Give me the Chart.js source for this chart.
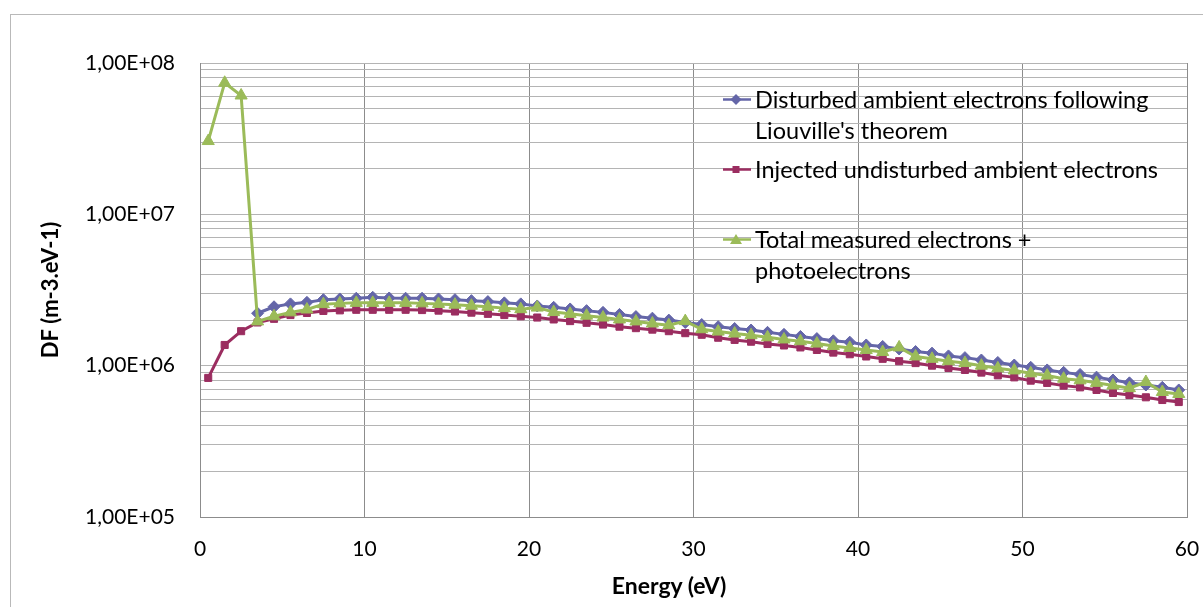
<!DOCTYPE html>
<html>
<head>
<meta charset="utf-8">
<script src="https://cdn.jsdelivr.net/npm/chart.js@4.4.1/dist/chart.umd.min.js"></script>
<style>
  body { margin: 0; background: #fff; overflow: hidden; font-family: Lato, "Open Sans", sans-serif; }
  #wrap { position: relative; width: 1203px; height: 607px; overflow: hidden; }
  #frame { position: absolute; left: 10px; top: 14px; width: 1400px; height: 800px; border: 1px solid #b9b9b9; }
  #chart { position: absolute; left: 0; top: 0; }
  .legend { position: absolute; left: 722px; font-size: 23.5px; line-height: 31px; color: #000; }
  .legend .item { position: absolute; left: 0; white-space: nowrap; }
  .legend svg { position: absolute; left: 0; top: 0; }
  .legend span { position: absolute; left: 33px; top: 0; }
  #xtitle { position: absolute; left: 519px; width: 300px; top: 571px; text-align: center; font-weight: bold; font-size: 23px; line-height: 28px; }
</style>
</head>
<body>
<div id="wrap">
  <div id="frame"></div>
  <canvas id="chart" width="1203" height="607"></canvas>
  <div class="legend" id="legend"></div>
  <div id="xtitle">Energy (eV)</div>
</div>
<script>
// --- data ---
const energy = [
  0.5, 1.5, 2.5, 3.5, 4.5, 5.5, 6.5, 7.5, 8.5, 9.5,
  10.5, 11.5, 12.5, 13.5, 14.5, 15.5, 16.5, 17.5, 18.5, 19.5,
  20.5, 21.5, 22.5, 23.5, 24.5, 25.5, 26.5, 27.5, 28.5, 29.5,
  30.5, 31.5, 32.5, 33.5, 34.5, 35.5, 36.5, 37.5, 38.5, 39.5,
  40.5, 41.5, 42.5, 43.5, 44.5, 45.5, 46.5, 47.5, 48.5, 49.5,
  50.5, 51.5, 52.5, 53.5, 54.5, 55.5, 56.5, 57.5, 58.5, 59.5
];

const disturbed = [
  null, null, null, 2.22e6, 2.45e6, 2.56e6, 2.62e6, 2.73e6, 2.76e6, 2.79e6,
  2.83e6, 2.80e6, 2.79e6, 2.79e6, 2.76e6, 2.73e6, 2.69e6, 2.65e6, 2.60e6, 2.56e6,
  2.48e6, 2.43e6, 2.37e6, 2.31e6, 2.25e6, 2.18e6, 2.11e6, 2.06e6, 2.00e6, 1.93e6,
  1.87e6, 1.81e6, 1.76e6, 1.72e6, 1.66e6, 1.61e6, 1.56e6, 1.51e6, 1.46e6, 1.43e6,
  1.37e6, 1.34e6, 1.29e6, 1.24e6, 1.21e6, 1.16e6, 1.13e6, 1.09e6, 1.05e6, 1.01e6,
  9.75e5, 9.37e5, 9.03e5, 8.75e5, 8.40e5, 8.04e5, 7.70e5, 7.45e5, 7.19e5, 6.91e5
];

const injected = [
  8.3e5, 1.37e6, 1.69e6, 1.93e6, 2.04e6, 2.16e6, 2.23e6, 2.30e6, 2.32e6, 2.34e6,
  2.34e6, 2.34e6, 2.34e6, 2.33e6, 2.31e6, 2.28e6, 2.24e6, 2.20e6, 2.16e6, 2.12e6,
  2.08e6, 2.02e6, 1.97e6, 1.92e6, 1.87e6, 1.81e6, 1.77e6, 1.73e6, 1.69e6, 1.64e6,
  1.60e6, 1.53e6, 1.48e6, 1.44e6, 1.39e6, 1.36e6, 1.32e6, 1.27e6, 1.22e6, 1.19e6,
  1.15e6, 1.11e6, 1.07e6, 1.04e6, 1.00e6, 9.66e5, 9.37e5, 9.00e5, 8.63e5, 8.37e5,
  7.96e5, 7.69e5, 7.38e5, 7.19e5, 6.91e5, 6.60e5, 6.40e5, 6.18e5, 5.93e5, 5.75e5
];

const total = [
  3.05e7, 7.4e7, 6.1e7, 1.96e6, 2.12e6, 2.25e6, 2.35e6, 2.55e6, 2.58e6, 2.60e6,
  2.60e6, 2.60e6, 2.60e6, 2.58e6, 2.56e6, 2.53e6, 2.49e6, 2.45e6, 2.40e6, 2.36e6,
  2.42e6, 2.26e6, 2.20e6, 2.14e6, 2.08e6, 2.02e6, 1.96e6, 1.90e6, 1.85e6, 1.97e6,
  1.74e6, 1.68e6, 1.63e6, 1.59e6, 1.54e6, 1.49e6, 1.45e6, 1.40e6, 1.35e6, 1.31e6,
  1.27e6, 1.23e6, 1.32e6, 1.15e6, 1.11e6, 1.07e6, 1.04e6, 1.00e6, 9.6e5, 9.3e5,
  8.9e5, 8.6e5, 8.2e5, 8.0e5, 7.7e5, 7.4e5, 7.1e5, 7.8e5, 6.7e5, 6.5e5
];

const seriesNames = [
  ["Disturbed ambient electrons following", "Liouville's theorem"],
  ["Injected undisturbed ambient electrons"],
  ["Total measured electrons +", "photoelectrons"]
];
const yTickValues = [1e5, 1e6, 1e7, 1e8];
const yTickLabels = ["1,00E+05", "1,00E+06", "1,00E+07", "1,00E+08"];
const xTickValues = [0, 10, 20, 30, 40, 50, 60];

const BLUE = "#6466a8";
const MAGENTA = "#9b2d60";
const GREEN = "#9bbb59";

const toPoints = arr => energy.map((x, i) => ({ x: x, y: arr[i] })).filter(p => p.y !== null);

// green first so it is drawn on top, as in the original
const datasets = [
  { label: seriesNames[2].join(" "), data: toPoints(total), borderColor: GREEN, backgroundColor: GREEN,
    pointStyle: "triangle", pointRadius: 7, borderWidth: 3 },
  { label: seriesNames[1].join(" "), data: toPoints(injected), borderColor: MAGENTA, backgroundColor: MAGENTA,
    pointStyle: "rect", pointRadius: 5, borderWidth: 3 },
  { label: seriesNames[0].join(" "), data: toPoints(disturbed), borderColor: BLUE, backgroundColor: BLUE,
    pointStyle: "rectRot", pointRadius: 6, borderWidth: 3 }
];
datasets.forEach(d => {
  d.pointBorderColor = d.borderColor;
  d.pointBorderWidth = 1;
  d.tension = 0;
});

new Chart(document.getElementById("chart"), {
  type: "line",
  data: { datasets },
  options: {
    responsive: false,
    animation: false,
    events: [],
    layout: { padding: { left: 0, top: 63, right: 0, bottom: 0 } },
    plugins: { legend: { display: false }, tooltip: { enabled: false } },
    scales: {
      x: {
        type: "linear",
        min: 0, max: 60,
        afterFit: s => { s.height = 90; s.paddingRight = 16; },
        afterBuildTicks: s => { s.ticks = xTickValues.map(v => ({ value: v })); },
        grid: { color: "#8c8c8c", drawTicks: false },
        border: { color: "#8c8c8c" },
        ticks: { padding: 20, color: "#000", font: { family: "Lato", size: 21 } }
      },
      y: {
        type: "logarithmic",
        min: 1e5, max: 1e8,
        afterFit: s => { s.width = 200; },
        afterBuildTicks: s => {
          const t = [];
          for (let e = 5; e <= 7; e++) {
            for (let m = 1; m <= 9; m++) t.push({ value: m * Math.pow(10, e) });
          }
          t.push({ value: 1e8 });
          s.ticks = t;
        },
        grid: { color: "#b4b4b4", drawTicks: false },
        border: { color: "#8c8c8c" },
        ticks: {
          autoSkip: false,
          padding: 25,
          color: "#000",
          font: { family: "Lato", size: 21 },
          callback: v => {
            const i = yTickValues.indexOf(v);
            return i >= 0 ? yTickLabels[i] : "";
          }
        },
        title: {
          display: true,
          text: "DF (m-3.eV-1)",
          color: "#000",
          font: { family: "Lato", size: 22, weight: "bold" },
          padding: { top: 38, bottom: 0 }
        }
      }
    }
  }
});

// legend, drawn as html over the plot (multi-line labels)
const legendItems = [
  { names: seriesNames[0], color: BLUE, marker: "diamond", top: 84 },
  { names: seriesNames[1], color: MAGENTA, marker: "square", top: 154 },
  { names: seriesNames[2], color: GREEN, marker: "triangle", top: 224 }
];
const legendEl = document.getElementById("legend");
legendItems.forEach(it => {
  const div = document.createElement("div");
  div.className = "item";
  div.style.top = it.top + "px";
  let mk = "";
  if (it.marker === "diamond") mk = '<polygon points="14,10 19.5,15.5 14,21 8.5,15.5" fill="' + it.color + '"/>';
  if (it.marker === "square") mk = '<rect x="10.5" y="12" width="7" height="7" fill="' + it.color + '"/>';
  if (it.marker === "triangle") mk = '<polygon points="14,10 20,20 8,20" fill="' + it.color + '"/>';
  div.innerHTML = '<svg width="30" height="31"><line x1="1" y1="15.5" x2="29" y2="15.5" stroke="' + it.color +
    '" stroke-width="2.5"/>' + mk + '</svg><span>' + it.names.join("<br>") + '</span>';
  legendEl.appendChild(div);
});
</script>
</body>
</html>
